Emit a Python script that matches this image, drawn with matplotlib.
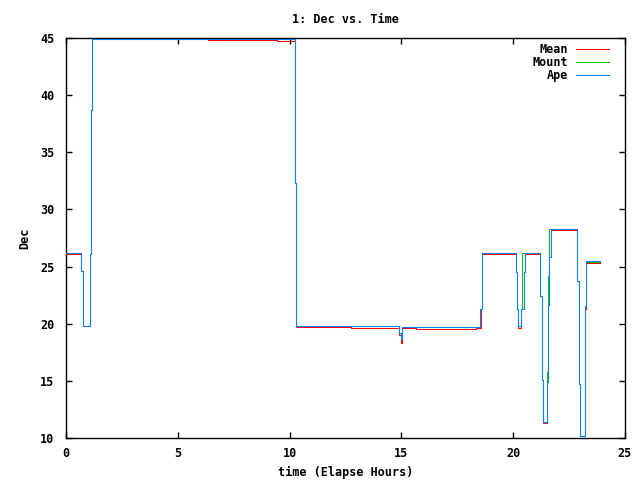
import matplotlib
matplotlib.use("Agg")
import matplotlib.pyplot as plt

# series (hours, Dec in degrees), drawn as steps
t_mean = [0, 0.67, 0.74, 0.78, 1.09, 1.13, 1.18, 6.37, 9.44, 10.26, 10.30, 12.75,
          14.90, 14.96, 15.03, 15.65, 18.32, 18.55, 18.59, 18.62, 20.14, 20.18, 20.23,
          20.36, 20.47, 20.53, 21.21, 21.27, 21.32, 21.53, 21.57, 21.61, 21.67, 22.87,
          22.93, 22.97, 23.20, 23.23, 23.27, 23.87]
dec_mean = [26.1, 24.6, 21.4, 19.8, 26.1, 38.7, 44.91, 44.82, 44.74, 32.3, 19.7, 19.62,
            19.0, 18.3, 19.62, 19.53, 19.62, 21.3, 24.5, 26.08, 24.5, 21.3, 19.6,
            21.3, 24.5, 26.08, 22.43, 15.1, 11.3, 14.94, 21.6, 25.8, 28.2, 23.77,
            14.7, 10.18, 14.0, 21.3, 25.3, 25.3]

t_mount = [0, 0.67, 0.74, 0.78, 1.09, 1.13, 1.18, 10.26, 10.30, 14.90, 14.96, 15.03,
           18.53, 18.59, 18.62, 20.14, 20.18, 20.23, 20.36, 20.41, 21.21, 21.27, 21.32,
           21.53, 21.57, 21.60, 22.87, 22.93, 22.97, 23.20, 23.23, 23.27, 23.87]
dec_mount = [26.15, 24.6, 21.4, 19.8, 26.1, 38.7, 44.91, 32.3, 19.8, 19.2, 18.7, 19.7,
             21.3, 24.5, 26.17, 24.5, 21.3, 19.77, 21.3, 26.2, 22.43, 15.1, 11.38,
             15.8, 24.2, 28.3, 23.77, 14.7, 10.18, 14.0, 21.58, 25.42, 25.42]

t_ape = [0, 0.67, 0.74, 0.78, 1.09, 1.13, 1.18, 10.26, 10.30, 14.90, 14.96, 15.03,
         18.53, 18.59, 18.62, 20.14, 20.18, 20.23, 20.36, 20.47, 20.53, 21.21, 21.27,
         21.32, 21.53, 21.57, 21.61, 21.67, 22.87, 22.93, 22.97, 23.20, 23.23, 23.27,
         23.87]
dec_ape = [26.15, 24.6, 21.4, 19.8, 26.1, 38.7, 44.91, 32.3, 19.8, 19.2, 18.7, 19.7,
           21.3, 24.5, 26.17, 24.5, 21.3, 19.77, 21.3, 24.5, 26.17, 22.43, 15.1,
           11.38, 14.94, 21.6, 25.8, 28.3, 23.77, 14.7, 10.18, 14.0, 21.58, 25.5,
           25.5]

plt.rcParams['font.family'] = 'DejaVu Sans Mono'
plt.rcParams['font.weight'] = 'bold'
plt.rcParams['font.size'] = 8.5

fig = plt.figure(figsize=(6.4, 4.8), dpi=100)
ax = fig.add_axes([66/640, 1 - 438/480, (625 - 66)/640, (438 - 38)/480])

# 0.75 pt is just over 1 px, so the steps snap onto pixel centres
ax.plot(t_mean, dec_mean, drawstyle='steps-post', color='#ff0000', lw=0.75,
        zorder=3, label='Mean')
ax.plot(t_mount, dec_mount, drawstyle='steps-post', color='#00c000', lw=0.75,
        zorder=3, label='Mount')
ax.plot(t_ape, dec_ape, drawstyle='steps-post', color='#0080ff', lw=0.75,
        zorder=3, label='Ape')

ax.set_xlim(0, 25)
ax.set_ylim(10, 45)
ax.set_xticks(range(0, 26, 5))
ax.set_yticks(range(10, 46, 5))
ax.tick_params(direction='in', length=4.5, width=1, top=True, right=True)
ax.tick_params(axis='x', pad=6.5)
ax.tick_params(axis='y', pad=8.5)
for s in ax.spines.values():
    s.set_linewidth(1)

ax.set_title('1: Dec vs. Time', fontsize=8.5, fontweight='bold', pad=10.5)
ax.set_xlabel('time (Elapse Hours)', fontweight='bold', labelpad=4)
ax.set_ylabel('Dec', fontweight='bold', labelpad=6)

ax.legend(loc='upper right', bbox_to_anchor=(0.98, 1.0), frameon=False,
          markerfirst=False, handlelength=2.8, handletextpad=0.68,
          labelspacing=0.0, borderaxespad=0)

fig.savefig('out.png', dpi=100)
